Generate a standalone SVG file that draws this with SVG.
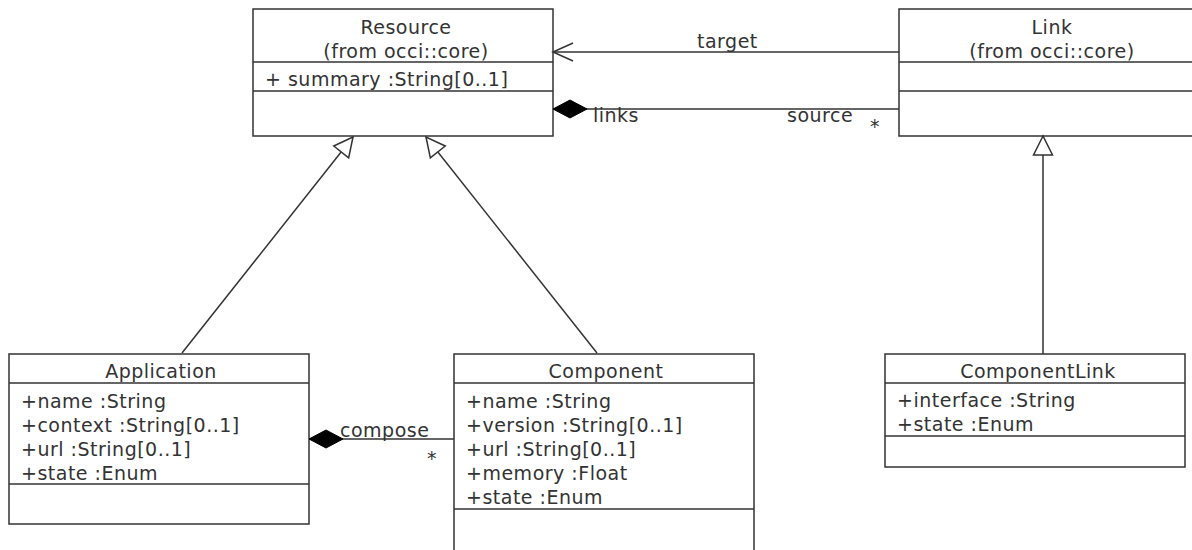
<svg xmlns="http://www.w3.org/2000/svg" width="1192" height="550" viewBox="0 0 1192 550">
<style>
.box{fill:#fff;stroke:#333;stroke-width:1.5}
.ln{stroke:#333;stroke-width:1.5;fill:none}
text{font-family:"DejaVu Sans",sans-serif;font-size:19px;letter-spacing:0.5px;fill:#333}
.c{text-anchor:middle}
</style>
<defs>
<marker id="gen" markerUnits="userSpaceOnUse" markerWidth="24" markerHeight="24" refX="20" refY="10" orient="auto" viewBox="0 0 24 20" overflow="visible">
<path d="M20,10 L1,0.5 L1,19.5 Z" fill="#fff" stroke="#333" stroke-width="1.5"/>
</marker>
<marker id="open" markerUnits="userSpaceOnUse" markerWidth="24" markerHeight="24" refX="20" refY="10" orient="auto" viewBox="0 0 24 20" overflow="visible">
<path d="M0,1 L20,10 L0,19" fill="none" stroke="#333" stroke-width="1.5"/>
</marker>
<marker id="dia" markerUnits="userSpaceOnUse" markerWidth="36" markerHeight="22" refX="0" refY="10" orient="auto" viewBox="0 0 36 20" overflow="visible">
<path d="M0,10 L17,1 L34,10 L17,19 Z" fill="#000" stroke="#000" stroke-width="1"/>
</marker>
</defs>

<g id="Resource">
<rect class="box" x="253" y="9" width="300" height="127"/>
<line class="ln" x1="253" y1="62" x2="553" y2="62"/>
<line class="ln" x1="253" y1="91" x2="553" y2="91"/>
<text class="c" x="406" y="34">Resource</text>
<text class="c" x="406" y="58">(from occi::core)</text>
<text x="265" y="86">+ summary :String[0..1]</text>
</g>

<g id="Link">
<rect class="box" x="899" y="9" width="300" height="127"/>
<line class="ln" x1="899" y1="62" x2="1199" y2="62"/>
<line class="ln" x1="899" y1="91" x2="1199" y2="91"/>
<text class="c" x="1052" y="34">Link</text>
<text class="c" x="1052" y="58">(from occi::core)</text>
</g>

<g id="Application">
<rect class="box" x="9" y="354" width="300" height="170"/>
<line class="ln" x1="9" y1="383" x2="309" y2="383"/>
<line class="ln" x1="9" y1="484" x2="309" y2="484"/>
<text class="c" x="161" y="378">Application</text>
<text x="21" y="408">+name :String</text>
<text x="21" y="432">+context :String[0..1]</text>
<text x="21" y="456">+url :String[0..1]</text>
<text x="21" y="480">+state :Enum</text>
</g>

<g id="Component">
<rect class="box" x="454" y="354" width="300" height="210"/>
<line class="ln" x1="454" y1="383" x2="754" y2="383"/>
<line class="ln" x1="454" y1="509" x2="754" y2="509"/>
<text class="c" x="606" y="378">Component</text>
<text x="466" y="408">+name :String</text>
<text x="466" y="432">+version :String[0..1]</text>
<text x="466" y="456">+url :String[0..1]</text>
<text x="466" y="480">+memory :Float</text>
<text x="466" y="504">+state :Enum</text>
</g>

<g id="ComponentLink">
<rect class="box" x="885" y="354" width="300" height="113"/>
<line class="ln" x1="885" y1="383" x2="1185" y2="383"/>
<line class="ln" x1="885" y1="436" x2="1185" y2="436"/>
<text class="c" x="1038" y="378">ComponentLink</text>
<text x="897" y="407">+interface :String</text>
<text x="897" y="431">+state :Enum</text>
</g>

<g id="connectors">
<line class="ln" x1="899" y1="52" x2="553" y2="52" marker-end="url(#open)"/>
<text x="697" y="48">target</text>
<line class="ln" x1="553" y1="109" x2="899" y2="109" marker-start="url(#dia)"/>
<text x="593" y="122">links</text>
<text x="787" y="122">source</text>
<text x="870" y="133">*</text>
<line class="ln" x1="182" y1="353" x2="353" y2="137" marker-end="url(#gen)"/>
<line class="ln" x1="597" y1="353" x2="426" y2="137" marker-end="url(#gen)"/>
<line class="ln" x1="1043" y1="354" x2="1043" y2="136" marker-end="url(#gen)"/>
<line class="ln" x1="309" y1="439" x2="454" y2="439" marker-start="url(#dia)"/>
<text x="340" y="437">compose</text>
<text x="427" y="465">*</text>
</g>
</svg>
